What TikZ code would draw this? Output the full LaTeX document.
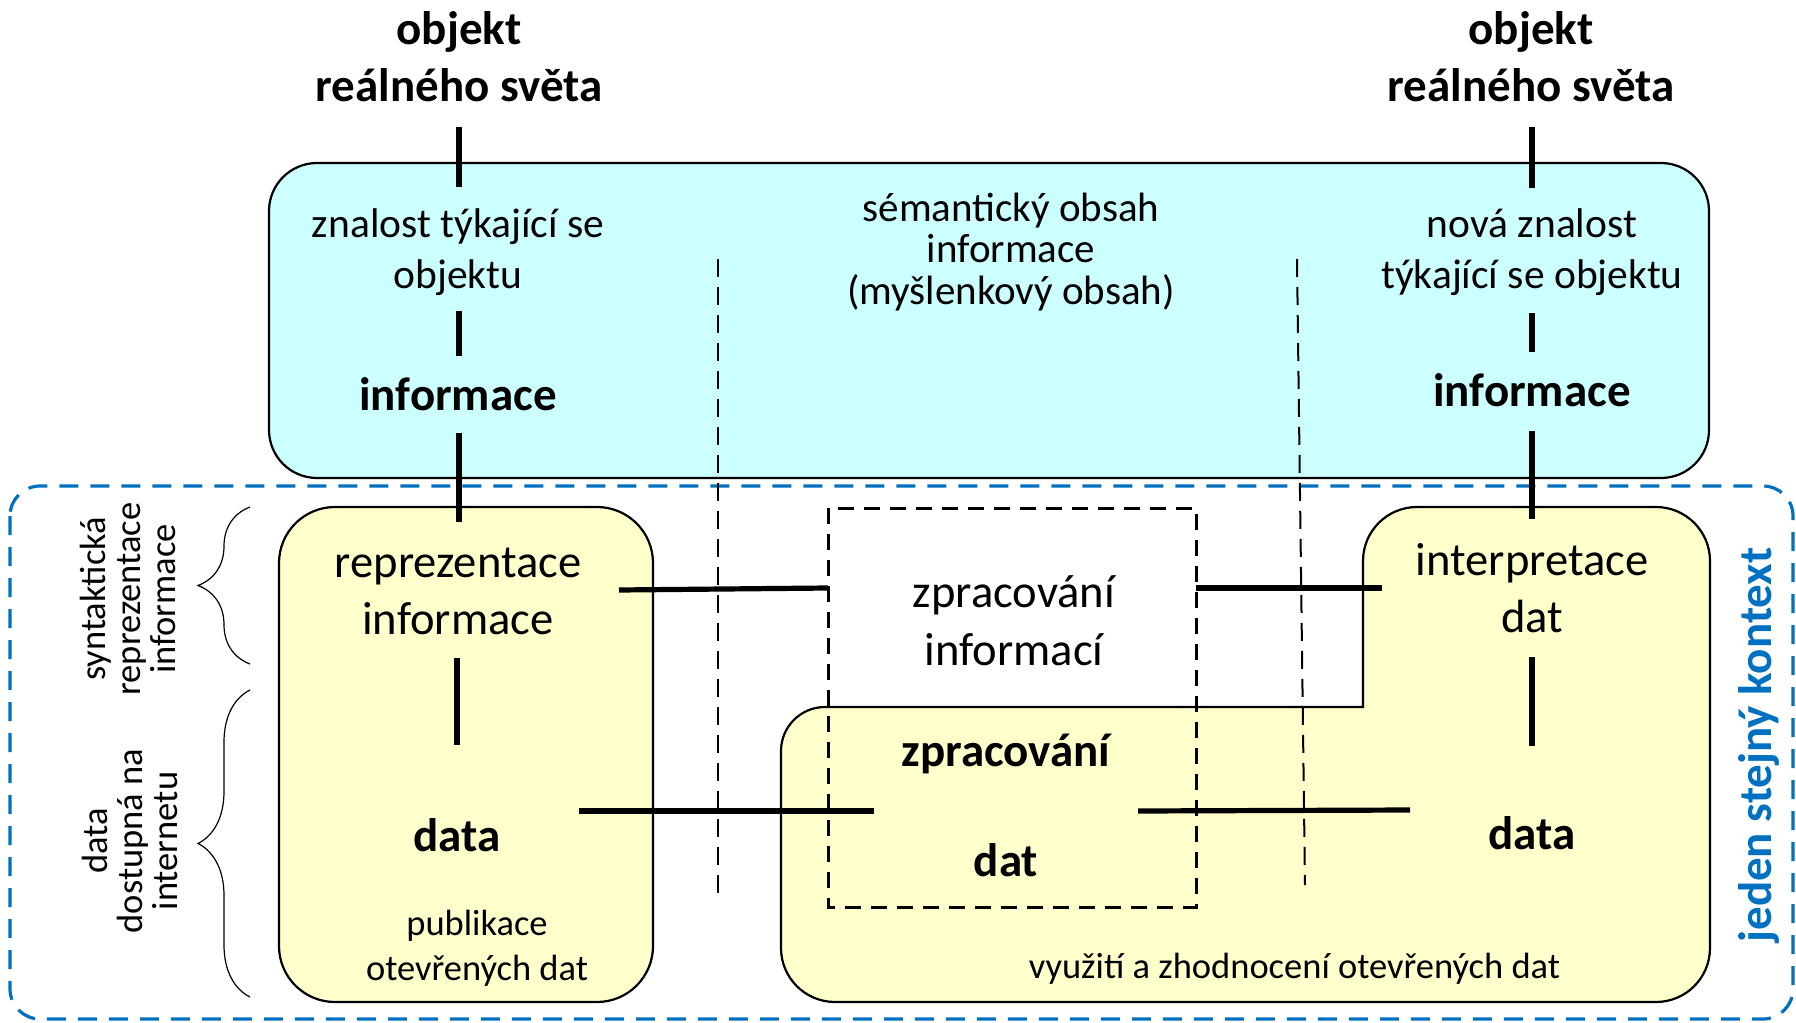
\documentclass[tikz,border=0pt]{standalone}
\usepackage{fontspec}
\setmainfont{Carlito}
\usetikzlibrary{decorations.pathreplacing}

\definecolor{cyanfill}{HTML}{CCFFFF}
\definecolor{yellowfill}{HTML}{FFFFCC}
\definecolor{ctxblue}{HTML}{0070C0}
\newcommand\fsz[2]{\fontsize{#1}{#2}\selectfont}

\begin{document}
\begin{tikzpicture}[
    x=5pt, y=-5pt,
    every node/.style={inner sep=0pt, align=center, anchor=base},
    infobox/.style={draw, line width=1.1pt, fill=cyanfill},
    databox/.style={draw, line width=1.1pt, fill=yellowfill},
    ctxframe/.style={ctxblue, line width=1.6pt, dash pattern=on 9.5pt off 6pt, rounded corners=15pt},
    procbox/.style={line width=1.5pt, dash pattern=on 8pt off 5pt},
    sepline/.style={line width=1pt, dash pattern=on 9pt off 5pt},
    link/.style={line width=2.6pt},
    brc/.style={decorate, decoration={brace, amplitude=26pt}, line width=0.6pt},
    sidelabel/.style={font=\fsz{18.25}{17.5}, rotate=90, anchor=center}
]
\useasboundingbox (0,0) rectangle (179.6,102.3);

% ============ FRAMES ============
\draw[ctxframe] (1.0,48.6) rectangle (179.3,101.9);
\draw[infobox, rounded corners=24pt] (26.9,16.3) rectangle (170.9,47.8);
\draw[databox, rounded corners=28pt] (27.9,50.7) rectangle (65.3,100.2);

% L-shaped box (use of data)
\draw[databox] (78.1,94.8) -- (78.1,75.1) arc[start angle=180, end angle=90, radius=22pt]
    -- (136.3,70.7) -- (136.3,56.1) arc[start angle=180, end angle=90, radius=27pt]
    -- (165.6,50.7) arc[start angle=90, end angle=0, radius=27pt]
    -- (171.0,94.8) arc[start angle=0, end angle=-90, radius=27pt]
    -- (83.5,100.2) arc[start angle=270, end angle=180, radius=27pt] -- cycle;

% Separators
\draw[sepline] (71.8,25.9) -- (71.8,89.6);
\draw[sepline] (129.7,25.9) -- (130.5,88.5);

% Processing box
\draw[procbox] (82.8,50.8) rectangle (119.6,90.7);

% ============ TEXTS ============
% (multi-line nodes sit on the baseline of their last line)
\node[font=\fsz{23.5}{28.4}\bfseries] (ttlL) at (45.9,10.17) {objekt\\reálného světa};
\node[font=\fsz{23.5}{28.4}\bfseries] (ttlR) at (153.1,10.17) {objekt\\reálného světa};

\node[font=\fsz{20.75}{25.5}] (knowL) at (45.8,28.8) {znalost týkající se\\objektu};
\node[font=\fsz{20.5}{20.65}] (semc) at (101.1,30.4) {sémantický obsah\\informace\\(myšlenkový obsah)};
\node[font=\fsz{20.75}{25.5}] (knowR) at (153.2,28.83) {nová znalost\\týkající se objektu};

\node[font=\fsz{23.5}{28.4}\bfseries] (infL) at (45.8,41.0) {informace};
\node[font=\fsz{23.5}{28.4}\bfseries] (infR) at (153.2,40.67) {informace};

\node[font=\fsz{23.3}{28.8}] (repr) at (45.8,63.46) {reprezentace\\informace};
\node[font=\fsz{23.5}{28.4}\bfseries] (dataL) at (45.7,85.1) {data};
\node[font=\fsz{18.25}{22.2}] (publ) at (47.7,98.0) {publikace\\otevřených dat};

\node[font=\fsz{23.3}{29}] (procI) at (101.4,66.5) {zpracování\\informací};
\node[font=\fsz{23.5}{54.65}\bfseries] (procD) at (100.6,87.6) {zpracování\\dat};

\node[font=\fsz{23.3}{28.5}] (interp) at (153.2,63.2) {interpretace\\dat};
\node[font=\fsz{23.5}{28.4}\bfseries] (dataR) at (153.2,84.96) {data};
\node[font=\fsz{18.25}{22.2}] (uses) at (129.45,97.8) {využití a zhodnocení otevřených dat};

\node[sidelabel] (synt) at (12.8,59.9) {syntaktická\\reprezentace\\informace};
\node[sidelabel] (avail) at (13.0,84.1) {data\\dostupná na\\internetu};
\node[font=\fsz{23.5}{28.4}\bfseries, text=ctxblue, rotate=90, anchor=center] (ctx) at (175.9,74.5) {jeden stejný kontext};

% Braces
\coordinate (bs1) at (25.0,66.4); \coordinate (be1) at (25.0,50.7);
\coordinate (bs2) at (25.0,99.7); \coordinate (be2) at (25.0,69.0);
\draw[brc] (bs1) -- (be1);
\draw[brc] (bs2) -- (be2);

% ============ CONNECTORS ============
\coordinate (l1a) at (45.9,12.7); \coordinate (l1b) at (45.9,18.7);
\coordinate (l2a) at (45.9,31.1); \coordinate (l2b) at (45.9,35.6);
\coordinate (l3a) at (45.9,43.3); \coordinate (l3b) at (45.9,52.2);
\coordinate (l4a) at (45.7,65.8); \coordinate (l4b) at (45.7,74.5);
\coordinate (r1a) at (153.2,12.7); \coordinate (r1b) at (153.2,18.8);
\coordinate (r2a) at (153.2,31.3); \coordinate (r2b) at (153.2,35.2);
\coordinate (r3a) at (153.2,43.1); \coordinate (r3b) at (153.2,51.9);
\coordinate (r4a) at (153.2,65.7); \coordinate (r4b) at (153.2,74.6);
\coordinate (h1a) at (61.9,59.0); \coordinate (h1b) at (82.8,58.8);
\coordinate (h2a) at (119.6,58.8); \coordinate (h2b) at (138.2,58.8);
\coordinate (h3a) at (57.9,81.1); \coordinate (h3b) at (87.4,81.1);
\coordinate (h4a) at (113.8,81.1); \coordinate (h4b) at (141.0,81.0);

\foreach \p in {l1,l2,l3,l4,r1,r2,r3,r4,h1,h2,h3,h4}
    \draw[link] (\p a) -- (\p b);

\end{tikzpicture}
\end{document}
